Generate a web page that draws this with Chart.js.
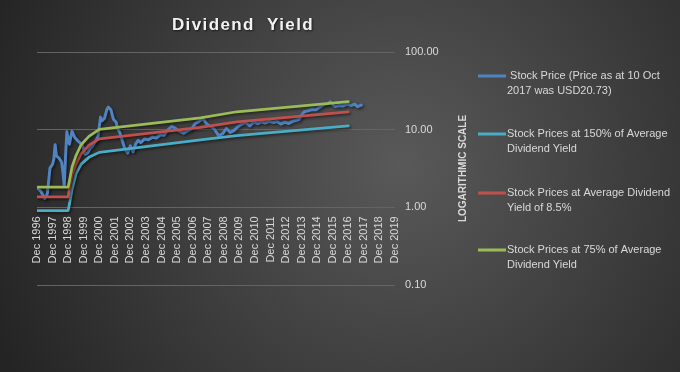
<!DOCTYPE html>
<html>
<head>
<meta charset="utf-8">
<script src="https://cdn.jsdelivr.net/npm/chart.js@4.4.1/dist/chart.umd.min.js"></script>
<style>
  html, body { margin: 0; padding: 0; background: #2a2a2a; }
  #wrap { width: 680px; height: 372px; position: relative; }
</style>
</head>
<body>
<div id="wrap"><canvas id="chart" width="680" height="372"></canvas></div>
<script>
// month index: 0 = Dec 1996
const xTickLabels = ['Dec 1996', 'Dec 1997', 'Dec 1998', 'Dec 1999', 'Dec 2000', 'Dec 2001', 'Dec 2002', 'Dec 2003',
  'Dec 2004', 'Dec 2005', 'Dec 2006', 'Dec 2007', 'Dec 2008', 'Dec 2009', 'Dec 2010', 'Dec 2011', 'Dec 2012',
  'Dec 2013', 'Dec 2014', 'Dec 2015', 'Dec 2016', 'Dec 2017', 'Dec 2018', 'Dec 2019'];
const yTicks = [0.1, 1, 10, 100];

const priceMonths = [0, 3, 6, 8, 10, 12, 13, 14, 15, 17, 19, 20, 21, 22, 23, 24, 25, 26, 27, 29, 31, 33, 35, 37, 39, 41,
  43, 45, 47, 49, 50, 52, 54, 55, 57, 59, 61, 62, 64, 66, 68, 70, 72, 74, 76, 78, 80, 83, 86, 89, 92, 95, 98, 101,
  104, 107, 110, 113, 116, 119, 122, 125, 128, 131, 134, 137, 140, 143, 146, 149, 152, 155, 158, 161, 164, 167,
  170, 173, 176, 179, 182, 185, 188, 191, 194, 197, 200, 202, 204, 206, 209, 212, 215, 218, 221, 224, 226, 228,
  230, 233, 236, 239, 242, 245, 247, 249, 250];
const priceValues = [1.8, 1.6, 1.3, 1.5, 3.2, 3.6, 4.2, 6.4, 4.6, 4.3, 3.8, 2.8, 1.9, 4.5, 9.4, 7.5, 6.5, 8.0, 9.5, 8.0,
  7.3, 6.8, 6.3, 4.8, 5.0, 5.8, 6.2, 7.0, 8.2, 14.5, 13.0, 14.0, 18.5, 19.5, 18.0, 13.5, 12.5, 10.5, 9.0, 7.0, 5.5,
  5.0, 6.2, 5.2, 6.5, 7.3, 6.8, 7.6, 7.4, 8.0, 7.8, 8.6, 8.5, 10.0, 11.0, 10.3, 9.5, 9.0, 9.6, 10.2, 12.0, 12.8,
  13.8, 11.8, 11.0, 10.0, 8.4, 8.8, 10.4, 9.2, 9.8, 11.0, 11.8, 12.3, 11.2, 12.5, 12.0, 12.6, 12.2, 12.8, 12.4,
  12.7, 11.8, 12.5, 12.0, 12.8, 13.2, 13.5, 15.5, 17.0, 17.5, 18.2, 18.0, 19.5, 21.0, 21.5, 23.0, 21.0, 19.8,
  20.5, 20.2, 21.5, 20.5, 21.3, 19.8, 20.4, 20.7];

const bandMonths = [0, 24, 25, 27, 30, 34, 40, 48, 126, 154, 240];
const highYieldValues = [0.91, 0.91, 1.1, 1.7, 2.7, 3.6, 4.4, 5.1, 7.4, 8.4, 11.2];   // 150% of avg yield
const avgYieldValues = [1.36, 1.36, 1.8, 2.6, 3.6, 4.9, 6.3, 7.6, 10.7, 12.6, 17.0];  // avg yield 8.5%
const lowYieldValues = [1.82, 1.82, 2.2, 3.3, 4.6, 6.4, 8.2, 10.1, 14.2, 17.0, 22.9];  // 75% of avg yield

const seriesNames = [
  ['\u00a0Stock Price (Price as at 10 Oct', '2017 was USD20.73)'],
  ['Stock Prices at 150% of Average', 'Dividend Yield'],
  ['Stock Prices at Average Dividend', 'Yield of 8.5%'],
  ['Stock Prices at 75% of Average', 'Dividend Yield']
];
const seriesColors = ['#4f83c2', '#4bacc6', '#c0504d', '#9bbb59'];

const toPoints = (xs, ys) => xs.map((x, i) => ({ x, y: ys[i] }));

const textColor = '#d9d9d9';
const font = 'Liberation Sans, Arial, sans-serif';

// background, title, axis title and legend
const decorPlugin = {
  id: 'decor',
  beforeDraw(chart) {
    const ctx = chart.ctx;
    ctx.save();
    const g = ctx.createRadialGradient(400, 165, 0, 400, 165, 440);
    g.addColorStop(0, '#595959');
    g.addColorStop(1, '#242424');
    ctx.fillStyle = g;
    ctx.fillRect(0, 0, chart.width, chart.height);
    ctx.restore();
  },
  beforeDatasetsDraw(chart) {
    const ctx = chart.ctx;
    ctx.save();
    ctx.shadowColor = 'rgba(0,0,0,0.55)';
    ctx.shadowBlur = 3;
    ctx.shadowOffsetX = 1.5;
    ctx.shadowOffsetY = 1.5;
  },
  afterDatasetsDraw(chart) {
    chart.ctx.restore();
  },
  afterDraw(chart) {
    const ctx = chart.ctx;
    const area = chart.chartArea;

    // title
    ctx.save();
    ctx.font = 'bold 17px ' + font;
    ctx.letterSpacing = '1.4px';
    ctx.textAlign = 'center';
    ctx.textBaseline = 'alphabetic';
    ctx.shadowColor = 'rgba(0,0,0,0.6)';
    ctx.shadowBlur = 2;
    ctx.shadowOffsetX = 1;
    ctx.shadowOffsetY = 1;
    ctx.fillStyle = '#f2f2f2';
    ctx.fillText('Dividend  Yield', 243, 30);
    ctx.restore();

    // y axis title, reading bottom to top
    ctx.save();
    ctx.translate(463, (area.top + area.bottom) / 2);
    ctx.rotate(-Math.PI / 2);
    ctx.font = 'bold 10px ' + font;
    ctx.textAlign = 'center';
    ctx.textBaseline = 'middle';
    ctx.fillStyle = textColor;
    ctx.fillText('LOGARITHMIC SCALE', 0, 0);
    ctx.restore();

    // legend
    const itemY = [76, 134, 193, 250];
    ctx.save();
    ctx.font = '11px ' + font;
    ctx.textBaseline = 'middle';
    ctx.fillStyle = textColor;
    seriesNames.forEach((lines, i) => {
      ctx.strokeStyle = seriesColors[i];
      ctx.lineWidth = 3;
      ctx.beginPath();
      ctx.moveTo(478, itemY[i]);
      ctx.lineTo(506, itemY[i]);
      ctx.stroke();
      lines.forEach((t, j) => ctx.fillText(t, 507, itemY[i] + j * 15));
    });
    ctx.restore();
  }
};

new Chart(document.getElementById('chart'), {
  type: 'line',
  data: {
    datasets: [
      { label: seriesNames[0].join(' '), data: toPoints(priceMonths, priceValues), borderColor: seriesColors[0], borderWidth: 3, order: 4 },
      { label: seriesNames[1].join(' '), data: toPoints(bandMonths, highYieldValues), borderColor: seriesColors[1], borderWidth: 2.75, order: 3 },
      { label: seriesNames[2].join(' '), data: toPoints(bandMonths, avgYieldValues), borderColor: seriesColors[2], borderWidth: 2.75, order: 2 },
      { label: seriesNames[3].join(' '), data: toPoints(bandMonths, lowYieldValues), borderColor: seriesColors[3], borderWidth: 2.75, order: 1 }
    ]
  },
  options: {
    responsive: false,
    animation: false,
    events: [],
    elements: { point: { radius: 0 }, line: { tension: 0, borderJoinStyle: 'round', borderCapStyle: 'round' } },
    layout: { padding: { left: 37, top: 52, right: 235, bottom: 87 } },
    plugins: { legend: { display: false }, title: { display: false }, tooltip: { enabled: false } },
    scales: {
      x: {
        type: 'linear',
        position: { y: 1 },
        min: 0,
        max: (xTickLabels.length - 1) * 12,
        afterBuildTicks: (scale) => { scale.ticks = xTickLabels.map((_, i) => ({ value: i * 12 })); },
        ticks: {
          autoSkip: false,
          maxRotation: 90,
          minRotation: 90,
          padding: 9,
          color: textColor,
          font: { family: font, size: 11 },
          callback: (v) => xTickLabels[Math.round(v / 12)]
        },
        grid: { display: false, drawTicks: false },
        border: { display: false }
      },
      y: {
        type: 'logarithmic',
        position: 'right',
        min: 0.1,
        max: 100,
        afterBuildTicks: (scale) => { scale.ticks = yTicks.map(v => ({ value: v })); },
        afterFit: (scale) => { scale.width = 50; },
        ticks: {
          padding: 10,
          color: textColor,
          font: { family: font, size: 11 },
          callback: (v) => Number(v).toFixed(2)
        },
        grid: { color: '#646464', lineWidth: 1, drawTicks: false },
        border: { display: false }
      }
    }
  },
  plugins: [decorPlugin]
});
</script>
</body>
</html>
